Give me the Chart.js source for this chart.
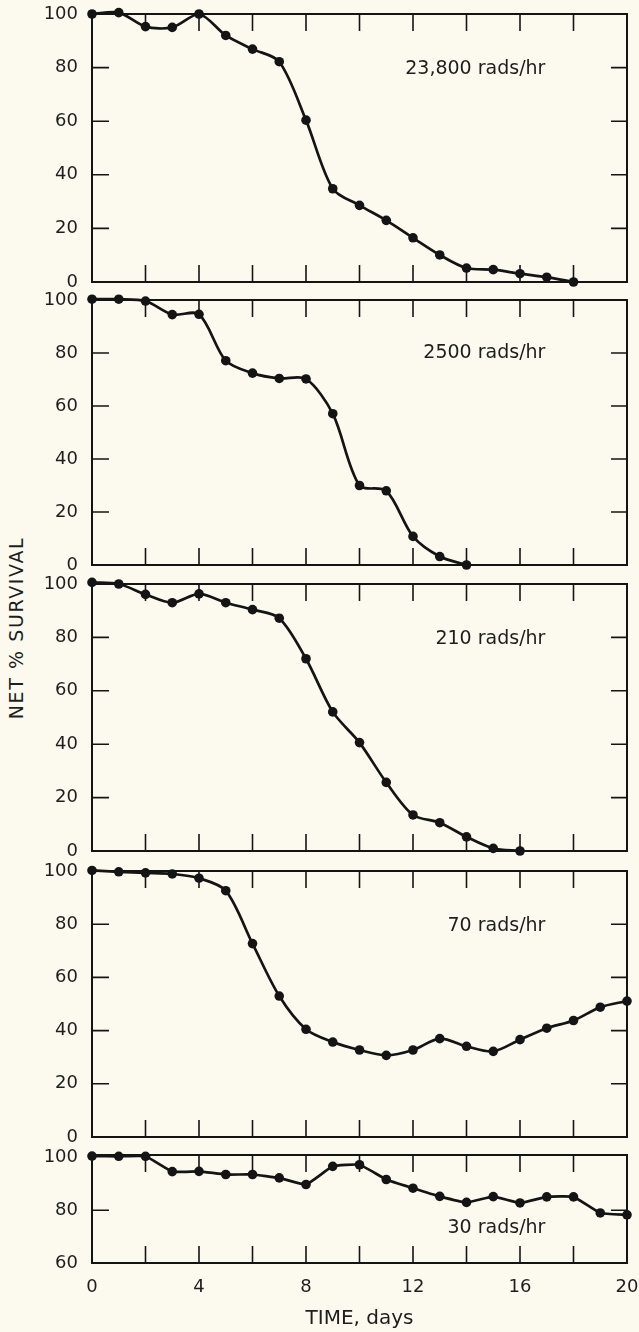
<!DOCTYPE html>
<html>
<head>
<meta charset="utf-8">
<script src="https://cdn.jsdelivr.net/npm/chart.js@4.4.0/dist/chart.umd.min.js"></script>
<style>
  html, body { margin: 0; padding: 0; background: #fcfaee; }
  #page { position: relative; width: 639px; height: 1332px; overflow: hidden; background: #fcfaee; }
  #page canvas { position: absolute; left: 0; }
  #ytitle {
    position: absolute; left: 15.5px; top: 628px;
    transform: translate(-50%, -50%) rotate(-90deg);
    font: 19px "DejaVu Sans"; letter-spacing: 1.6px;
    white-space: nowrap; color: #1e1e1e;
  }
</style>
</head>
<body>
<div id="page">
  <div id="ytitle">NET % SURVIVAL</div>
</div>
<script>
// days since start of exposure
const days = [0, 1, 2, 3, 4, 5, 6, 7, 8, 9, 10, 11, 12, 13, 14, 15, 16, 17, 18, 19, 20];

// net % survival per dose rate
const rate23800 = [100, 100.5, 95.3, 95, 100, 92, 86.9, 82.2, 60.4, 34.8, 28.6, 23, 16.5, 10.1, 5.2, 4.6, 3.1, 1.8, 0];
const rate2500 = [100.3, 100.3, 99.6, 94.5, 94.6, 77.1, 72.4, 70.4, 70.2, 57.1, 30, 28, 10.8, 3.2, 0];
const rate210 = [100.6, 100, 96.1, 93, 96.3, 93, 90.4, 87.2, 72, 52.1, 40.6, 25.7, 13.5, 10.6, 5.3, 1, 0];
const rate70 = [100.2, 99.7, 99.3, 98.9, 97.3, 92.6, 72.7, 53, 40.5, 35.7, 32.7, 30.7, 32.7, 37, 34.1, 32.2, 36.6, 40.9, 43.8, 48.8, 51.1];
const rate30 = [100.6, 100.5, 100.5, 94.7, 94.8, 93.6, 93.6, 92.3, 89.8, 96.7, 97.3, 91.7, 88.4, 85.3, 83, 85.2, 82.8, 85.1, 85.1, 79, 78.3];

const doseLabels = ['23,800 rads/hr', '2500 rads/hr', '210 rads/hr', '70 rads/hr', '30 rads/hr'];

// tick values
const yTicksFull = [0, 20, 40, 60, 80, 100];
const yTicksShort = [60, 80, 100];
const xTickLabels = [0, 4, 8, 12, 16, 20];
const xMarks = [2, 4, 6, 8, 10, 12, 14, 16, 18];

const INK = '#141414';
const FONT = 'DejaVu Sans';

// frame, inward ticks and dose label
const framePlugin = {
    id: 'frame',
    beforeDatasetsDraw(chart, args, opts) {
        const { ctx, chartArea: a } = chart;
        const xs = chart.scales.x, ys = chart.scales.y;
        ctx.save();
        ctx.strokeStyle = INK;
        ctx.lineWidth = 2;
        ctx.strokeRect(a.left, a.top, a.right - a.left, a.bottom - a.top);
        ctx.lineWidth = 1.6;
        ctx.beginPath();
        xMarks.forEach(v => {
            const px = xs.getPixelForValue(v);
            ctx.moveTo(px, a.bottom); ctx.lineTo(px, a.bottom - 17);
            ctx.moveTo(px, a.top); ctx.lineTo(px, a.top + 17);
        });
        opts.yMarks.forEach(v => {
            const py = ys.getPixelForValue(v);
            ctx.moveTo(a.left, py); ctx.lineTo(a.left + 17, py);
            ctx.moveTo(a.right, py); ctx.lineTo(a.right - 16, py);
        });
        ctx.stroke();
        ctx.restore();
    },
    afterDraw(chart, args, opts) {
        const { ctx } = chart;
        ctx.save();
        ctx.fillStyle = '#1e1e1e';
        ctx.font = '19px "' + FONT + '"';
        ctx.textAlign = 'right';
        ctx.textBaseline = 'middle';
        ctx.fillText(opts.text,
            chart.scales.x.getPixelForValue(opts.atX),
            chart.scales.y.getPixelForValue(opts.atY));
        ctx.restore();
    }
};

const panels = [
    { values: rate23800, top: 14, bottom: 282, min: 0, max: 100, yTicks: yTicksFull, yMarks: [20, 40, 60, 80], labelY: 79.3 },
    { values: rate2500, top: 300, bottom: 565, min: 0, max: 100, yTicks: yTicksFull, yMarks: [20, 40, 60, 80], labelY: 80 },
    { values: rate210, top: 584, bottom: 851, min: 0, max: 100, yTicks: yTicksFull, yMarks: [20, 40, 60, 80], labelY: 79.4 },
    { values: rate70, top: 871, bottom: 1137, min: 0, max: 100, yTicks: yTicksFull, yMarks: [20, 40, 60, 80], labelY: 79.3 },
    { values: rate30, top: 1155, bottom: 1263, min: 60, max: 101, yTicks: yTicksShort, yMarks: [80], labelY: 73.3, last: true }
];

const page = document.getElementById('page');

function noPad(s) {
    s.paddingTop = 0; s.paddingBottom = 0; s.paddingLeft = 0; s.paddingRight = 0;
}

panels.forEach((p, i) => {
    const canvas = document.createElement('canvas');
    const canvasTop = p.top - 12;
    const height = p.last ? 1332 - canvasTop : (p.bottom - p.top) + 24;
    canvas.width = 639;
    canvas.height = height;
    canvas.style.top = canvasTop + 'px';
    page.appendChild(canvas);

    new Chart(canvas.getContext('2d'), {
        type: 'line',
        data: {
            labels: days.slice(0, p.values.length),
            datasets: [{
                data: p.values.map((v, k) => ({ x: days[k], y: v })),
                borderColor: INK,
                borderWidth: 2.7,
                backgroundColor: INK,
                pointRadius: 4.8,
                pointBorderWidth: 0,
                pointBackgroundColor: INK,
                tension: p.last ? 0.12 : 0.3,
                clip: false
            }]
        },
        plugins: [framePlugin],
        options: {
            responsive: false,
            animation: false,
            events: [],
            layout: { padding: { top: 12, bottom: p.last ? 0 : 12, left: 0, right: 12 } },
            plugins: {
                legend: { display: false },
                tooltip: { enabled: false },
                frame: { yMarks: p.yMarks, text: doseLabels[i], atX: 16.95, atY: p.labelY }
            },
            scales: {
                x: {
                    type: 'linear',
                    min: 0,
                    max: 20,
                    display: !!p.last,
                    grid: { display: false, drawTicks: false },
                    border: { display: false },
                    afterBuildTicks: s => { s.ticks = xTickLabels.map(v => ({ value: v })); },
                    afterFit: s => {
                        noPad(s);
                        if (p.last) s.height = 1332 - p.bottom;
                    },
                    ticks: {
                        autoSkip: false,
                        maxRotation: 0,
                        padding: 14,
                        color: '#1e1e1e',
                        font: { family: FONT, size: 18 }
                    },
                    title: {
                        display: true,
                        text: 'TIME, days',
                        color: '#1e1e1e',
                        padding: { top: 0, bottom: 1 },
                        font: { family: FONT, size: 20 }
                    }
                },
                y: {
                    min: p.min,
                    max: p.max,
                    grid: { display: false, drawTicks: false },
                    border: { display: false },
                    afterBuildTicks: s => { s.ticks = p.yTicks.map(v => ({ value: v })); },
                    afterFit: s => { noPad(s); s.width = 92; },
                    ticks: {
                        padding: 14,
                        color: '#1e1e1e',
                        font: { family: FONT, size: 18 }
                    }
                }
            }
        }
    });
});
</script>
</body>
</html>
